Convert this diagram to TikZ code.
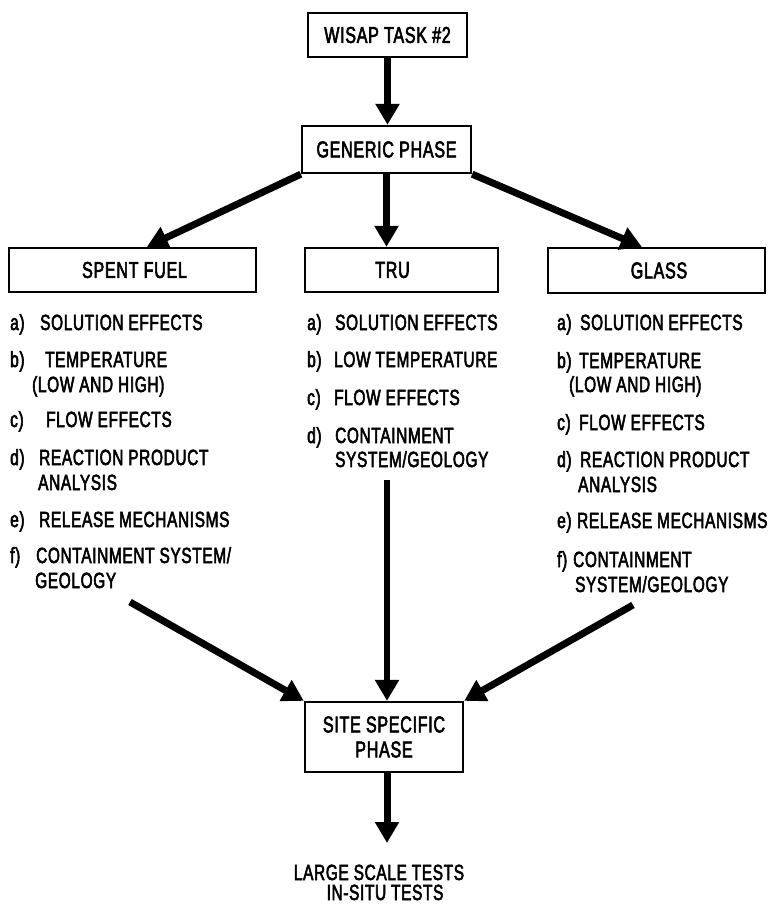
\documentclass[tikz,border=0pt]{standalone}
\usepackage{fontspec}
\setmainfont[FakeStretch=0.7,FakeBold=2.5,LetterSpace=3]{Liberation Sans}
\usetikzlibrary{arrows.meta}
\tikzset{
  boxnode/.style={draw, line width=2.3pt, inner sep=0pt, font=\fontsize{23}{25}\selectfont},
  itm/.style={anchor=base west, inner sep=0pt, font=\fontsize{22}{25}\selectfont},
  bottomtxt/.style={anchor=base, inner sep=0pt, font=\fontsize{22}{25}\selectfont},
  bigarrow/.style={line width=7pt, -{Triangle[length=21pt,width=23pt]}},
  midarrow/.style={line width=5.5pt, -{Triangle[length=21pt,width=23pt]}},
}
\begin{document}
\begin{tikzpicture}[x=1pt,y=-1pt]
\useasboundingbox (0,0) rectangle (779,906);

% boxes
\node[boxnode, minimum width=159pt, minimum height=44pt] (wisap) at (387.5,35) {WISAP TASK \#2};
\node[boxnode, minimum width=169pt, minimum height=47pt] (generic) at (386.5,149.5) {GENERIC PHASE\hspace{12pt}};
\node[boxnode, minimum width=247pt, minimum height=44pt] (spent) at (132.5,270) {\hspace{4pt}SPENT FUEL};
\node[boxnode, minimum width=193pt, minimum height=44pt] (tru) at (401.5,270) {\hspace{-18pt}TRU};
\node[boxnode, minimum width=217pt, minimum height=45pt] (glass) at (656.5,270.5) {\hspace{5pt}GLASS};
\node[boxnode, minimum width=158pt, minimum height=70pt, align=center] (site) at (384,737) {SITE SPECIFIC\\PHASE};

% left column
\node[itm] (la) at (10,330) {a)};
\node[itm] (lat) at (40,330) {SOLUTION EFFECTS};
\node[itm] (lb) at (10,367) {b)};
\node[itm] (lbt) at (45,367) {TEMPERATURE};
\node[itm] (lbt2) at (32,392) {(LOW AND HIGH)};
\node[itm] (lc) at (10,427) {c)};
\node[itm] (lct) at (46,427) {FLOW EFFECTS};
\node[itm] (ld) at (10,465) {d)};
\node[itm] (ldt) at (39,465) {REACTION PRODUCT};
\node[itm] (ldt2) at (38,490) {ANALYSIS};
\node[itm] (le) at (10,527) {e)};
\node[itm] (let) at (39,527) {RELEASE MECHANISMS};
\node[itm] (lf) at (10,563) {f)};
\node[itm] (lft) at (36,563) {CONTAINMENT SYSTEM/};
\node[itm] (lft2) at (35,588) {GEOLOGY};

% middle column
\node[itm] (ma) at (307,330) {a)};
\node[itm] (mat) at (335,330) {SOLUTION EFFECTS};
\node[itm] (mb) at (307,367) {b)};
\node[itm] (mbt) at (334,367) {LOW TEMPERATURE};
\node[itm] (mc) at (307,405) {c)};
\node[itm] (mct) at (334,405) {FLOW EFFECTS};
\node[itm] (md) at (307,443) {d)};
\node[itm] (mdt) at (335,443) {CONTAINMENT};
\node[itm] (mdt2) at (335,467) {SYSTEM/GEOLOGY};

% right column
\node[itm] (ra) at (557,330) {a)};
\node[itm] (rat) at (580,330) {SOLUTION EFFECTS};
\node[itm] (rb) at (557,368) {b)};
\node[itm] (rbt) at (579,368) {TEMPERATURE};
\node[itm] (rbt2) at (569,392) {(LOW AND HIGH)};
\node[itm] (rc) at (557,430) {c)};
\node[itm] (rct) at (579,430) {FLOW EFFECTS};
\node[itm] (rd) at (557,467) {d)};
\node[itm] (rdt) at (580,467) {REACTION PRODUCT};
\node[itm] (rdt2) at (578,492) {ANALYSIS};
\node[itm] (re) at (557,528) {e)};
\node[itm] (ret) at (577,528) {RELEASE MECHANISMS};
\node[itm] (rf) at (557,567) {f)};
\node[itm] (rft) at (573,567) {CONTAINMENT};
\node[itm] (rft2) at (575,592) {SYSTEM/GEOLOGY};

% bottom text
\node[bottomtxt] (large) at (379,880) {LARGE SCALE TESTS};
\node[bottomtxt] (insitu) at (385,900) {IN-SITU TESTS};

% free-end coordinates
\coordinate (lstart) at (130,602);
\coordinate (mstart) at (387,480);
\coordinate (rstart) at (633,605);
\coordinate (endtip) at (387,843);

% connectors
\draw[bigarrow] (wisap.south) -- (generic.north -| wisap.south);
\draw[bigarrow] (generic.south west) -- ([xshift=139pt]spent.north west);
\draw[bigarrow] (generic.south) -- (generic.south |- tru.north);
\draw[bigarrow] (generic.south east) -- ([xshift=95pt]glass.north west);
\draw[bigarrow] (lstart) -- (site.north west);
\draw[midarrow] (mstart) -- (mstart |- site.north);
\draw[bigarrow] (rstart) -- (site.north east);
\draw[bigarrow] (mstart |- site.south) -- (endtip);
\end{tikzpicture}
\end{document}
